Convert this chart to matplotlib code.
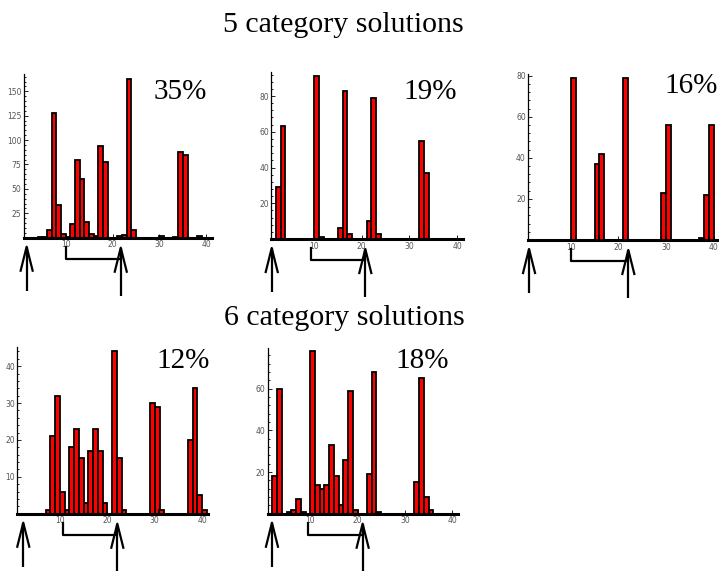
import matplotlib
matplotlib.use("Agg")
import matplotlib.pyplot as plt
import matplotlib.transforms as mtransforms
from matplotlib.ticker import MultipleLocator, AutoMinorLocator

# ─── Data ────────────────────────────────────────────────────────────────

titles = ["5 category solutions", "6 category solutions"]
percents = ["35%", "19%", "16%", "12%", "18%"]

p1_bins = [4, 5, 6, 7, 8, 9, 10, 11, 12, 13, 14, 15, 16, 17, 18, 21, 22, 23, 24, 30, 33, 34, 35, 38]
p1_counts = [1, 1, 8, 128, 34, 4, 1, 14, 80, 60, 16, 4, 2, 94, 78, 2, 3, 163, 8, 2, 1, 88, 85, 2]

p2_bins = [2, 3, 10, 11, 15, 16, 17, 21, 22, 23, 32, 33]
p2_counts = [29, 63, 91, 1, 6, 83, 3, 10, 79, 3, 55, 37]

p3_bins = [10, 15, 16, 21, 29, 30, 37, 38, 39]
p3_counts = [79, 37, 42, 79, 23, 56, 1, 22, 56]

p4_bins = [7, 8, 9, 10, 11, 12, 13, 14, 15, 16, 17, 18, 19, 21, 22, 23, 29, 30, 31, 37, 38, 39, 40]
p4_counts = [1, 21, 32, 6, 1, 18, 23, 15, 3, 17, 23, 17, 3, 44, 15, 1, 30, 29, 1, 20, 34, 5, 1]

p5_bins = [2, 3, 5, 6, 7, 8, 10, 11, 12, 13, 14, 15, 16, 17, 18, 19, 22, 23, 24, 32, 33, 34, 35]
p5_counts = [18, 60, 1, 2, 7, 1, 78, 14, 12, 14, 33, 18, 4, 26, 59, 2, 19, 68, 1, 15, 65, 8, 2]

# arrow marks under each panel: first arrow, second arrow, start of bracket
arrow1_x = [1.67, 1.13, 1.24, 2.26, 1.9]
arrow2_x = [21.75, 20.75, 22.1, 22.1, 21.07]
bracket_x = [10.0, 9.3, 10.0, 10.6, 9.45]

y_steps = [25, 20, 20, 10, 20]
y_max = [167.7, 93.6, 80.8, 45.3, 79.5]

# ─── Layout (pixels) ─────────────────────────────────────────────────────

W, H = 719, 571
# left px at x=1, px per unit, baseline px, top px
layout = [
    (23.5, 4.687, 237.7, 74.0),
    (271.1, 4.77, 239.0, 71.7),
    (527.9, 4.76, 240.0, 74.0),
    (17.3, 4.74, 513.7, 346.7),
    (267.7, 4.73, 513.7, 348.1),
]
pct_pos = [(154, 99), (403, 99), (664, 93), (156, 368), (395, 368)]
title_pos = [(343, 32.5), (344, 325)]
X0, X1 = 1.0, 41.3

SERIF = ["Liberation Serif", "DejaVu Serif"]

fig = plt.figure(figsize=(W / 100, H / 100), dpi=100)

panels = [
    (p1_bins, p1_counts),
    (p2_bins, p2_counts),
    (p3_bins, p3_counts),
    (p4_bins, p4_counts),
    (p5_bins, p5_counts),
]

for i, (bins, counts) in enumerate(panels):
    left, unit, base, top = layout[i]
    width = (X1 - X0) * unit
    ax = fig.add_axes([left / W, 1 - base / H, width / W, (base - top) / H])
    ax.set_xlim(X0, X1)
    ax.set_ylim(0, y_max[i])
    ax.patch.set_alpha(0)

    ax.bar(bins, counts, width=1.0, align="edge", color="#ff0000",
           edgecolor="black", linewidth=1.3, zorder=3, clip_on=False)

    for s in ["top", "right"]:
        ax.spines[s].set_visible(False)
    ax.spines["left"].set_linewidth(0.9)
    ax.spines["bottom"].set_linewidth(2.2)
    ax.spines["bottom"].set_zorder(4)

    ax.xaxis.set_minor_locator(MultipleLocator(2))
    ax.yaxis.set_minor_locator(AutoMinorLocator(5))
    ax.set_xticks([10, 20, 30, 40])
    ax.set_yticks([v for v in range(y_steps[i], int(y_max[i]) + 1, y_steps[i])])

    ax.tick_params(axis="both", which="both", direction="in", width=0.6,
                   colors="black", labelcolor="#555555", labelsize=5.5)
    ax.tick_params(axis="y", which="major", length=3, pad=1.5)
    ax.tick_params(axis="y", which="minor", length=1.5)
    ax.tick_params(axis="x", which="major", length=3, pad=2)
    ax.tick_params(axis="x", which="minor", length=0)
    for lab in ax.get_xticklabels() + ax.get_yticklabels():
        lab.set_fontfamily(["DejaVu Sans"])

    # arrows + bracket below the axis
    trans = mtransforms.blended_transform_factory(ax.transData, fig.transFigure)
    fy = lambda py: 1 - py / H
    hw = 6.0 / unit
    lw = 1.6
    a1, a2, bx = arrow1_x[i], arrow2_x[i], bracket_x[i]
    tip1, bot1 = base + 9, base + 53
    tip2, bot2 = base + 10, base + 58
    for ax_x, tip, bot in [(a1, tip1, bot1), (a2, tip2, bot2)]:
        ax.plot([ax_x, ax_x], [fy(tip), fy(bot)], color="black", lw=lw,
                transform=trans, clip_on=False, solid_capstyle="butt")
        ax.plot([ax_x - hw, ax_x, ax_x + hw], [fy(tip + 24), fy(tip), fy(tip + 24)],
                color="black", lw=lw, transform=trans, clip_on=False)
    ax.plot([bx, bx, a2], [fy(base + 9), fy(base + 21), fy(base + 21)],
            color="black", lw=lw, transform=trans, clip_on=False)

    px, py = pct_pos[i]
    fig.text(px / W, 1 - py / H, percents[i], fontsize=21, family=SERIF,
             ha="left", va="baseline")

for t, (px, py) in zip(titles, title_pos):
    fig.text(px / W, 1 - py / H, t, fontsize=21.5, family=SERIF,
             ha="center", va="baseline")

plt.savefig("out.png", dpi=100)
plt.close(fig)
